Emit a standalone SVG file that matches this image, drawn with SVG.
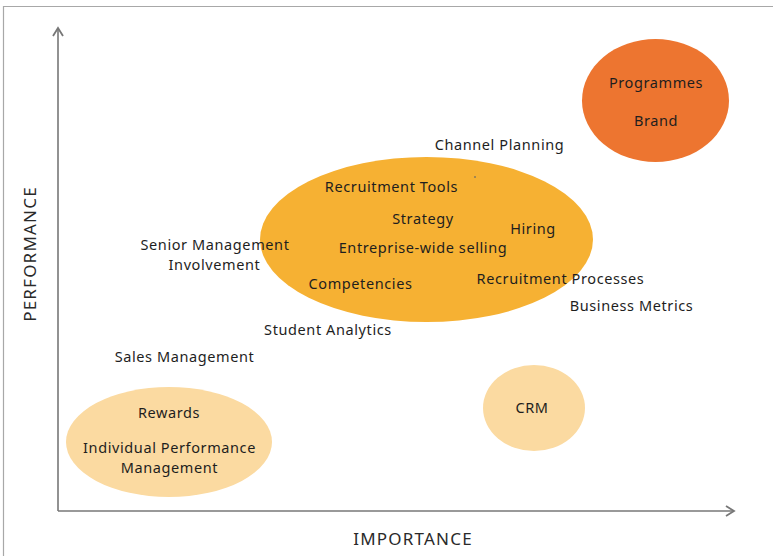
<svg xmlns="http://www.w3.org/2000/svg" width="773" height="556" viewBox="0 0 773 556">
  <style>
    text { font-family: "Noto Sans", "Liberation Sans", sans-serif; font-size: 14.5px; letter-spacing: 0.6px; fill: #1e1e1e; text-anchor: middle; }
    .axis { stroke: #777; stroke-width: 1.6; fill: none; }
    .frame { stroke: #a8a8a8; stroke-width: 1.2; fill: none; }
    text.axis-label { font-size: 17px; letter-spacing: 1.2px; fill: #2a2a2a; }
  </style>
  <defs>
    <marker id="chev" viewBox="0 0 12 12" refX="10" refY="6" markerWidth="12" markerHeight="12" markerUnits="userSpaceOnUse" orient="auto">
      <path d="M2,1 L10,6 L2,11" fill="none" stroke="#777" stroke-width="1.8"/>
    </marker>
  </defs>

  <rect width="773" height="556" fill="#fff"/>
  <!-- outer frame (top and left edges) -->
  <path class="frame" d="M3.5,556 V6.5 H773"/>

  <!-- axes -->
  <g id="axes">
    <path class="axis" d="M58,511 V28" marker-end="url(#chev)"/>
    <path class="axis" d="M58,511 H734" marker-end="url(#chev)"/>
    <text class="axis-label" x="413" y="545">IMPORTANCE</text>
    <text class="axis-label" transform="translate(36,254) rotate(-90)">PERFORMANCE</text>
  </g>

  <!-- clusters -->
  <g id="cluster-top">
    <ellipse cx="655.5" cy="100.5" rx="73.5" ry="61.5" fill="#ED7530"/>
    <text x="656" y="88">Programmes</text>
    <text x="656" y="126">Brand</text>
  </g>

  <g id="cluster-core">
    <ellipse cx="426.5" cy="239.5" rx="166.5" ry="82.5" fill="#F6B133"/>
    <circle cx="475" cy="177" r="1" fill="#8a7a5a"/>
    <text x="391.5" y="192">Recruitment Tools</text>
    <text x="423" y="224">Strategy</text>
    <text x="533" y="234">Hiring</text>
    <text x="423" y="253">Entreprise-wide selling</text>
    <text x="360.5" y="289">Competencies</text>
  </g>

  <g id="cluster-low">
    <ellipse cx="169" cy="442" rx="103" ry="55" fill="#FBDAA1"/>
    <text x="169" y="418">Rewards</text>
    <text x="169.5" y="453">Individual Performance<tspan x="169.5" dy="20">Management</tspan></text>
  </g>

  <g id="cluster-crm">
    <ellipse cx="534" cy="408" rx="51" ry="43" fill="#FBDAA1"/>
    <text x="532" y="413">CRM</text>
  </g>

  <!-- standalone items -->
  <g id="item-channel-planning"><text x="499.5" y="150">Channel Planning</text></g>
  <g id="item-senior-management">
    <text x="215" y="250">Senior Management<tspan x="214.5" dy="20">Involvement</tspan></text>
  </g>
  <g id="item-recruitment-processes"><text x="560.5" y="284">Recruitment Processes</text></g>
  <g id="item-business-metrics"><text x="631.5" y="311">Business Metrics</text></g>
  <g id="item-student-analytics"><text x="328" y="335">Student Analytics</text></g>
  <g id="item-sales-management"><text x="184.5" y="362">Sales Management</text></g>
</svg>
